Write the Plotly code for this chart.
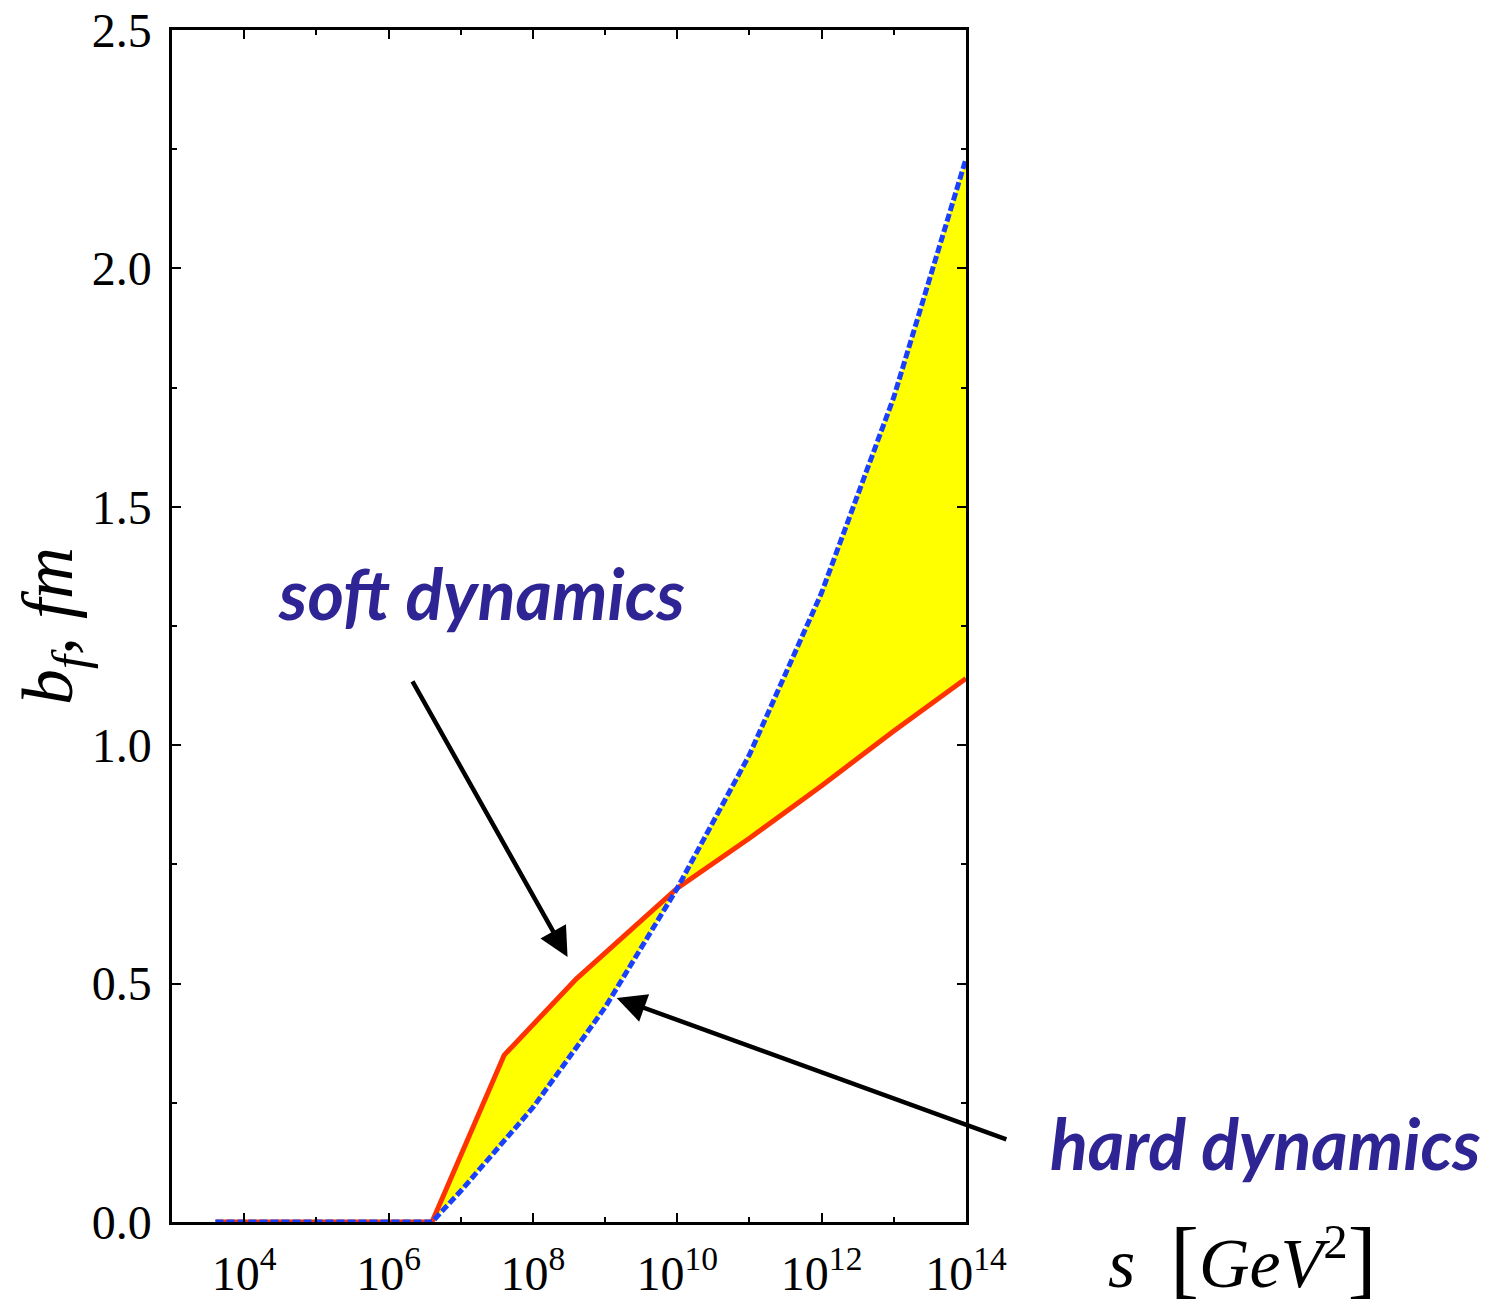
import plotly.graph_objects as go

# s [GeV^2] and b_f [fm]
s_soft = [4e3, 4e6, 4e7, 4e8, 1e10, 1e11, 1e12, 1e13, 1e14]
b_soft = [0.0, 0.0, 0.35, 0.51, 0.70, 0.805, 0.915, 1.03, 1.14]

s_hard = [4e3, 4e6, 1e7, 4e7, 1e8, 4e8, 1e9, 1e10, 1e11, 1e12, 1e13, 1e14]
b_hard = [0.0, 0.0, 0.065, 0.17, 0.24, 0.366, 0.45, 0.70, 0.98, 1.32, 1.73, 2.23]

x_major = [1e4, 1e6, 1e8, 1e10, 1e12, 1e14]
x_major_text = ["10<sup>4</sup>", "10<sup>6</sup>", "10<sup>8</sup>",
                "10<sup>10</sup>", "10<sup>12</sup>", "10<sup>14</sup>"]
x_minor = [1e3, 1e5, 1e7, 1e9, 1e11, 1e13]
y_major = [0.0, 0.5, 1.0, 1.5, 2.0, 2.5]
y_major_text = ["0.0", "0.5", "1.0", "1.5", "2.0", "2.5"]
y_minor = [0.25, 0.75, 1.25, 1.75, 2.25]

serif = "Liberation Serif, Times New Roman, serif"
label_blue = "#2e2494"

fig = go.Figure()

# yellow band between the two curves
fig.add_trace(go.Scatter(
    x=s_soft + s_hard[::-1],
    y=b_soft + b_hard[::-1],
    fill="toself",
    fillcolor="#ffff00",
    line=dict(width=0),
    mode="lines",
    hoverinfo="skip",
    showlegend=False,
))
fig.add_trace(go.Scatter(
    x=s_soft, y=b_soft, mode="lines",
    line=dict(color="#ff3300", width=5),
    showlegend=False,
))
fig.add_trace(go.Scatter(
    x=s_hard, y=b_hard, mode="lines",
    line=dict(color="#1a40ff", width=5, dash="8px,3px"),
    showlegend=False,
))

axis_common = dict(
    showline=True, linecolor="black", linewidth=2.5, mirror="ticks",
    ticks="inside", ticklen=9, tickwidth=2, tickcolor="black",
    showgrid=False, zeroline=False, automargin=False,
    ticklabeloverflow="allow",
    tickfont=dict(family=serif, size=48, color="black"),
)

fig.update_xaxes(
    type="log", range=[3, 14],
    tickvals=x_major, ticktext=x_major_text,
    ticklabelstandoff=8,
    minor=dict(tickvals=x_minor, ticks="inside", ticklen=5, tickwidth=1.5, tickcolor="black"),
    **axis_common,
)
fig.update_yaxes(
    range=[0, 2.5],
    tickvals=y_major, ticktext=y_major_text,
    ticklabelstandoff=8,
    minor=dict(tickvals=y_minor, ticks="inside", ticklen=5, tickwidth=1.5, tickcolor="black"),
    title=dict(text="<i>b<sub>f</sub>, fm</i>", font=dict(family=serif, size=72, color="black"), standoff=12),
    **axis_common,
)

# arrows
fig.add_annotation(x=8.48, y=0.556, ax=6.32, ay=1.137, xref="x", yref="y", axref="x", ayref="y",
                   text="", showarrow=True, arrowhead=2, arrowsize=1.3, arrowwidth=4.5, arrowcolor="black")
fig.add_annotation(x=9.16, y=0.47, ax=14.58, ay=0.172, xref="x", yref="y", axref="x", ayref="y",
                   text="", showarrow=True, arrowhead=2, arrowsize=1.3, arrowwidth=4.5, arrowcolor="black")

# labels (pixel positions, converted to paper coordinates below)
label_font = dict(family="Lato, Open Sans, sans-serif", size=70, color=label_blue)
fig.add_annotation(x=481, y=593, xref="paper", yref="paper", text="<b><i>soft dynamics</i></b>",
                   showarrow=False, font=label_font, xanchor="center", yanchor="middle")
fig.add_annotation(x=1265, y=1143, xref="paper", yref="paper", text="<b><i>hard dynamics</i></b>",
                   showarrow=False, font=label_font, xanchor="center", yanchor="middle")
fig.add_annotation(x=1242, y=1258, xref="paper", yref="paper",
                   text="<i>s</i>  <span style='font-size:86px'>[</span><i>GeV</i><sup>2</sup><span style='font-size:86px'>]</span>",
                   showarrow=False, font=dict(family=serif, size=70, color="black"),
                   xanchor="center", yanchor="middle")

W, H = 1498, 1310
PAGE_OFF = 8  # body margin of the html page
L, R, T, B = 172 - PAGE_OFF, 532 + PAGE_OFF, 30 - PAGE_OFF, 88 + PAGE_OFF
for ann in fig.layout.annotations:
    if ann.xref == "paper":
        ann.x = (ann.x - PAGE_OFF - L) / (W - L - R)
        ann.y = (H - B - (ann.y - PAGE_OFF)) / (H - T - B)

fig.update_layout(
    width=W, height=H,
    margin=dict(l=L, r=R, t=T, b=B),
    plot_bgcolor="white", paper_bgcolor="white",
)

fig.write_html("out.html")
